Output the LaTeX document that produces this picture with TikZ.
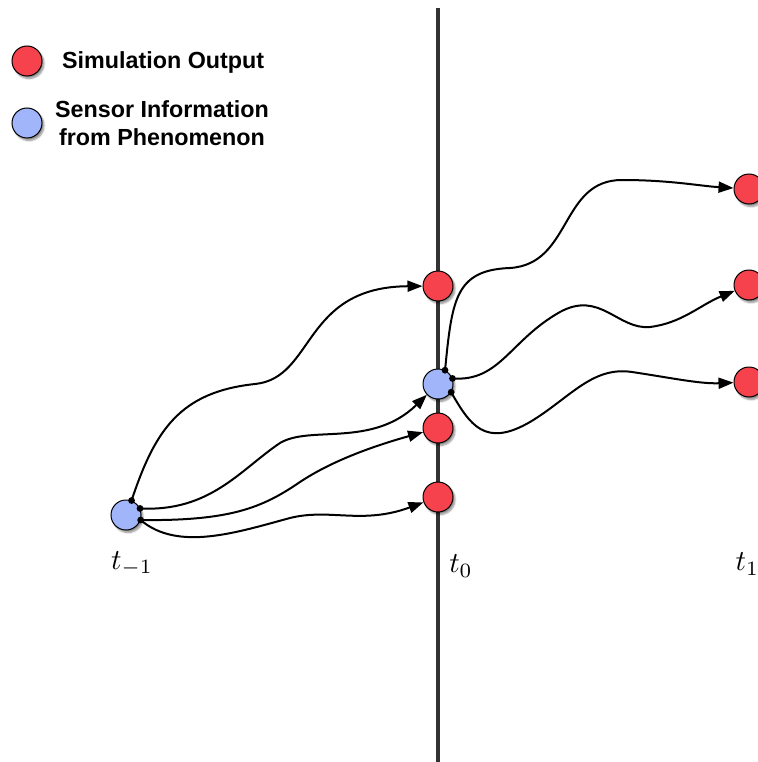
\documentclass[tikz,border=0pt]{standalone}
\usepackage{fontspec}
\newfontfamily\legendfont{Liberation Sans}
\usetikzlibrary{arrows.meta,shadows.blur}
\definecolor{simred}{RGB}{246,66,76}
\definecolor{sensblue}{RGB}{160,181,250}
\tikzset{
  dotnode/.style={circle,draw=black,line width=1pt,minimum size=30pt,inner sep=0pt,
    blur shadow={shadow xshift=2pt,shadow yshift=-2.5pt,shadow blur steps=7,shadow opacity=45}},
  simnode/.style={dotnode,fill=simred},
  sensnode/.style={dotnode,fill=sensblue},
  flow/.style={line width=2pt,-{Triangle[length=15pt,width=11pt]}},
  legtext/.style={font=\legendfont\bfseries\fontsize{23.3}{28}\selectfont,align=center,inner sep=0pt},
  tlabel/.style={scale=2.9,inner sep=0pt},
  startdot/.style={fill=black}
}
\begin{document}
\begin{tikzpicture}[x=1pt,y=-1pt]
\useasboundingbox (0,0) rectangle (757,762);
% time axis
\coordinate (axtop) at (438,8);
\coordinate (axbot) at (438,762);
\draw[line width=4.5pt,black!80] (axtop) -- (axbot);
% legend
\node[simnode] (legred) at (27,61) {};
\node[sensnode] (legblue) at (27,123) {};
\node[legtext,anchor=west] (legredtxt) at (62,62) {Simulation Output};
\node[legtext] (legbluetxt) at (162,123) {Sensor Information\\from Phenomenon};
% nodes
\node[sensnode] (s) at (126,515) {};
\node[simnode] (a) at (438,286) {};
\node[sensnode] (b) at (438,384) {};
\node[simnode] (c) at (438,428) {};
\node[simnode] (d) at (438,497) {};
\node[simnode] (e) at (749,189) {};
\node[simnode] (f) at (749,285) {};
\node[simnode] (g) at (749,382) {};
% labels
\node[tlabel] (lm1) at (132,564) {$t_{-1}$};
\node[tlabel] (l0) at (461,566) {$t_{0}$};
\node[tlabel,anchor=west] (l1) at (735,564) {$t_{1}$};
% connectors from t_{-1}
\draw[flow] (s.69) .. controls (155,430) and (180,392) .. (255,384)
  .. controls (315,378) and (302,287) .. (a);
\draw[flow] (s.25) .. controls (210,512) and (240,470) .. (280,443)
  .. controls (310,425) and (372,448) .. (b);
\draw[flow] (s.-19) .. controls (230,521) and (262,508) .. (300,482)
  .. controls (330,462) and (370,447) .. (c);
\draw[flow] (s.-19) .. controls (178,552) and (238,532) .. (290,518)
  .. controls (330,508) and (362,525) .. (d);
% connectors from t_0
\draw[flow] (b.63) .. controls (452,300) and (455,270) .. (510,268)
  .. controls (572,264) and (560,180) .. (622,180)
  .. controls (670,180) and (700,186) .. (e);
\draw[flow] (b.21) .. controls (500,382) and (510,340) .. (560,312)
  .. controls (600,290) and (618,330) .. (650,327)
  .. controls (682,323) and (700,305) .. (f);
\draw[flow] (b.-32) .. controls (470,425) and (485,448) .. (530,422)
  .. controls (570,398) and (592,366) .. (632,372)
  .. controls (672,378) and (700,384) .. (g);
% start dots
\fill[startdot] (s.69) circle (3.4);
\fill[startdot] (s.25) circle (3.4);
\fill[startdot] (s.-19) circle (3.4);
\fill[startdot] (b.63) circle (3.4);
\fill[startdot] (b.21) circle (3.4);
\fill[startdot] (b.-32) circle (3.4);
\end{tikzpicture}
\end{document}
